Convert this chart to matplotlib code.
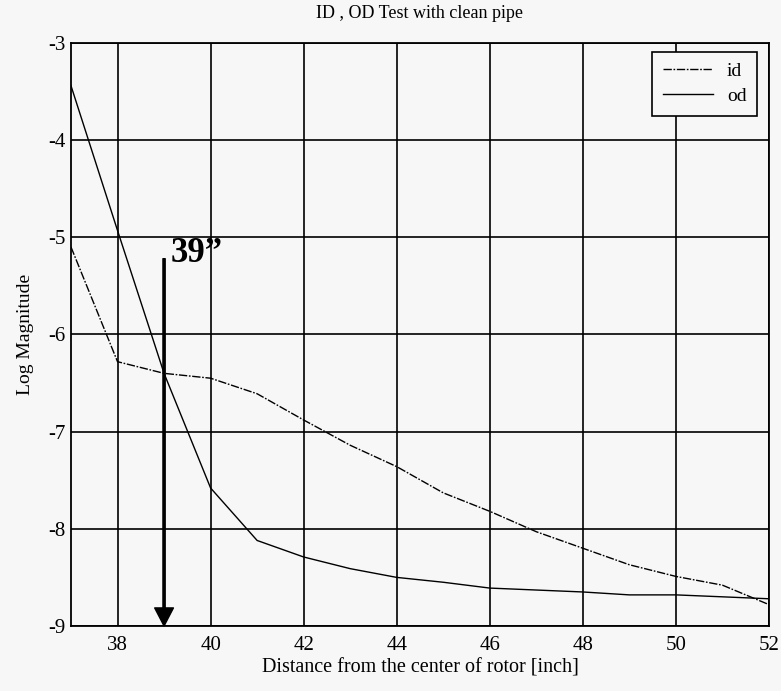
import numpy as np
import matplotlib
matplotlib.use("Agg")
import matplotlib.pyplot as plt

plt.rcParams["font.family"] = ["Liberation Serif", "DejaVu Serif"]
plt.rcParams["axes.unicode_minus"] = False

# ---------------------------------------------------------------------------
# Data
# ---------------------------------------------------------------------------
distance = [37, 38, 39, 40, 41, 42, 43, 44, 45, 46, 47, 48, 49, 50, 51, 52]

id_mag = [-5.10, -6.28, -6.40, -6.45, -6.61, -6.88, -7.14, -7.36,
          -7.63, -7.82, -8.03, -8.20, -8.37, -8.49, -8.58, -8.78]

od_mag = [-3.44, -4.93, -6.40, -7.58, -8.12, -8.29, -8.41, -8.50,
          -8.55, -8.61, -8.63, -8.65, -8.68, -8.68, -8.70, -8.72]

x_ticks = [38, 40, 42, 44, 46, 48, 50, 52]
y_ticks = [-3, -4, -5, -6, -7, -8, -9]

marker_x = 39
marker_top = -5.22
marker_label = "39\u201d"

BG = "#f7f7f7"

fig = plt.figure(figsize=(7.81, 6.91), dpi=100, facecolor=BG)
ax = fig.add_axes([0.0909, 0.0941, 0.8937, 0.8437], facecolor=BG)

ax.plot(distance, id_mag, color="black", lw=1.0,
        dashes=(6, 1.2, 1.2, 1.2), label="id")
ax.plot(distance, od_mag, color="black", lw=1.0, label="od")

ax.set_xlim(37, 52)
ax.set_ylim(-9, -3)
ax.set_xticks(x_ticks)
ax.set_yticks(y_ticks)
ax.tick_params(length=0, labelsize=15)
ax.tick_params(axis="y", pad=4)
ax.tick_params(axis="x", pad=7)
ax.grid(True, color="black", lw=1.2)
for s in ax.spines.values():
    s.set_color("black")
    s.set_linewidth(1.3)

ax.set_title("ID , OD Test with clean pipe", fontsize=13, pad=18)
ax.set_xlabel("Distance from the center of rotor [inch]", fontsize=14.5, labelpad=3)
ax.set_ylabel("Log Magnitude", fontsize=14, labelpad=10)

# arrow marking 39 inch
ax.annotate("", xy=(marker_x, -9), xytext=(marker_x, marker_top),
            arrowprops=dict(facecolor="black", edgecolor="black", width=1.6,
                            headwidth=13.5, headlength=13, shrink=0),
            annotation_clip=False)
ax.text(marker_x + 0.15, marker_top - 0.03, marker_label, fontsize=25,
        fontweight="bold", ha="left", va="baseline")

leg = ax.legend(loc="upper right", fontsize=14, frameon=True, fancybox=False,
                handlelength=2.6, borderpad=0.55, labelspacing=0.4,
                handletextpad=0.7, bbox_to_anchor=(0.997, 1.002))
leg.get_frame().set_edgecolor("black")
leg.get_frame().set_facecolor(BG)
leg.get_frame().set_alpha(1)
leg.get_frame().set_linewidth(1.2)

fig.savefig("out.png", dpi=100, facecolor=BG)
